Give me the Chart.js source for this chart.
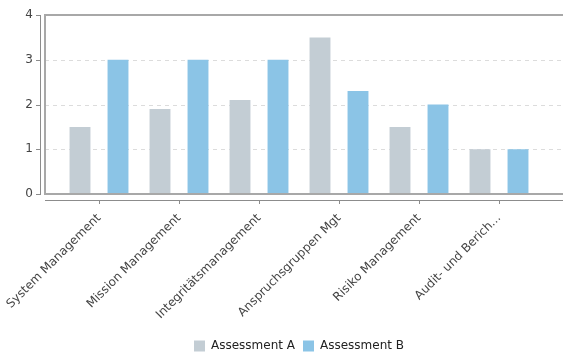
<!DOCTYPE html>
<html>
<head>
<meta charset="utf-8">
<script src="https://cdn.jsdelivr.net/npm/chart.js@4"></script>
<style>
  html, body { margin: 0; padding: 0; background: #fff; }
  #wrap { width: 563px; height: 352px; }
</style>
</head>
<body>
<div id="wrap"><canvas id="assessmentChart"></canvas></div>
<script>
// chart data
const categories = [
  "System Management",
  "Mission Management",
  "Integritätsmanagement",
  "Anspruchsgruppen Mgt",
  "Risiko Management",
  "Audit- und Berich..."
];
const assessmentA = [1.5, 1.9, 2.1, 3.5, 1.5, 1.0];
const assessmentB = [3.0, 3.0, 3.0, 2.3, 2.0, 1.0];
const yTicks = [0, 1, 2, 3, 4];

const FONT = "'DejaVu Sans', sans-serif";

// frame, dashed grid and the detached axis lines
const framePlugin = {
  id: "frame",
  beforeDatasetsDraw(chart) {
    const { ctx } = chart;
    const y = chart.scales.y;
    ctx.save();
    ctx.strokeStyle = "#dcdcdc";
    ctx.lineWidth = 1;
    ctx.setLineDash([4, 4]);
    yTicks.slice(1, -1).forEach((t) => {
      const py = Math.round(y.getPixelForValue(t)) + 0.5;
      ctx.beginPath();
      ctx.moveTo(45, py);
      ctx.lineTo(563, py);
      ctx.stroke();
    });
    ctx.restore();
  },
  afterDatasetsDraw(chart) {
    const { ctx } = chart;
    const x = chart.scales.x;
    const y = chart.scales.y;
    const top = Math.round(y.getPixelForValue(yTicks[yTicks.length - 1]));
    const bottom = Math.round(y.getPixelForValue(0));
    ctx.save();
    // plot frame
    ctx.strokeStyle = "#a8a8a8";
    ctx.lineWidth = 2;
    ctx.beginPath();
    ctx.moveTo(563, top);
    ctx.lineTo(45, top);
    ctx.lineTo(45, bottom);
    ctx.lineTo(563, bottom);
    ctx.stroke();
    // y axis line with tick marks
    ctx.strokeStyle = "#8c8c8c";
    ctx.lineWidth = 1;
    ctx.beginPath();
    ctx.moveTo(40.5, top);
    ctx.lineTo(40.5, bottom);
    yTicks.forEach((t) => {
      const py = Math.round(y.getPixelForValue(t)) + 0.5;
      ctx.moveTo(36, py);
      ctx.lineTo(41, py);
    });
    ctx.stroke();
    // x axis line with tick marks
    ctx.beginPath();
    ctx.moveTo(45, bottom + 6.5);
    ctx.lineTo(563, bottom + 6.5);
    categories.forEach((c, i) => {
      const px = Math.round(x.getPixelForValue(i)) + 0.5;
      ctx.moveTo(px, bottom + 6);
      ctx.lineTo(px, bottom + 10);
    });
    ctx.stroke();
    ctx.restore();
  }
};

const ctx = document.getElementById("assessmentChart").getContext("2d");
new Chart(ctx, {
  type: "bar",
  data: {
    labels: categories,
    datasets: [
      {
        label: "Assessment A",
        data: assessmentA,
        backgroundColor: "#c3cdd4",
        borderWidth: 0,
        barPercentage: 0.55,
        categoryPercentage: 0.95
      },
      {
        label: "Assessment B",
        data: assessmentB,
        backgroundColor: "#8bc4e6",
        borderWidth: 0,
        barPercentage: 0.55,
        categoryPercentage: 0.95
      }
    ]
  },
  options: {
    responsive: true,
    maintainAspectRatio: false,
    animation: false,
    layout: { padding: { top: 15, right: 0, left: 0, bottom: -10 } },
    plugins: {
      legend: {
        position: "bottom",
        fullSize: false,
        labels: {
          boxWidth: 11,
          boxHeight: 11,
          padding: 8,
          color: "#222",
          font: { family: FONT, size: 12 }
        }
      },
      tooltip: { enabled: false }
    },
    scales: {
      y: {
        min: 0,
        max: 4,
        ticks: {
          stepSize: 1,
          padding: 18,
          color: "#444",
          font: { family: FONT, size: 12 }
        },
        grid: { display: false },
        border: { display: false },
        afterFit(scale) {
          scale.width = 59;
          scale.paddingTop = 0;
          scale.paddingBottom = 0;
        }
      },
      x: {
        ticks: {
          minRotation: 45,
          maxRotation: 45,
          autoSkip: false,
          padding: 9,
          color: "#444",
          font: { family: FONT, size: 12 }
        },
        grid: { display: false },
        border: { display: false },
        afterFit(scale) {
          scale.height = 138;
          scale.paddingLeft = 0;
          scale.paddingRight = 24;
        }
      }
    }
  },
  plugins: [framePlugin]
});
</script>
</body>
</html>
